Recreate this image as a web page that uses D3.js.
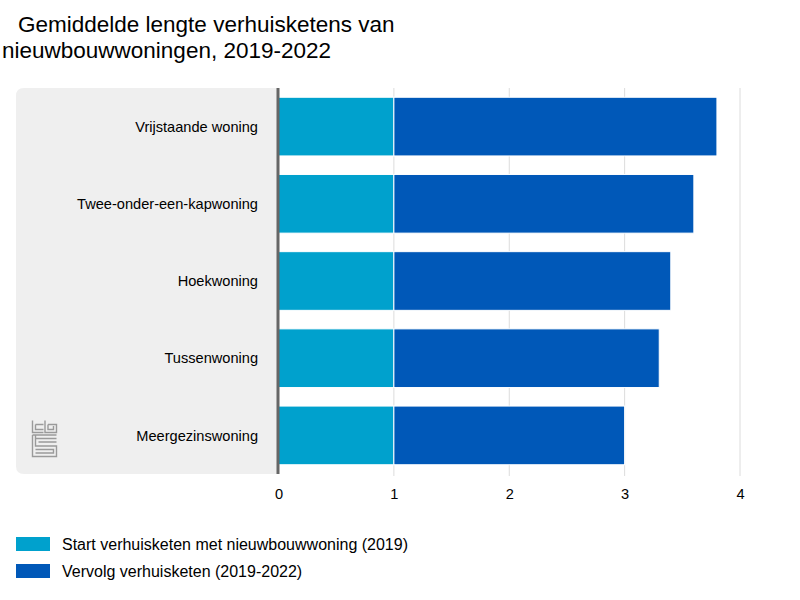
<!DOCTYPE html>
<html><head><meta charset="utf-8">
<script src="https://cdn.jsdelivr.net/npm/d3@7"></script>
<style>body{margin:0;background:#fff;font-family:"Liberation Sans",Arial,sans-serif;}</style>
</head><body><svg id="c" width="800" height="600"></svg>
<script>
const categories = ["Vrijstaande woning","Twee-onder-een-kapwoning","Hoekwoning","Tussenwoning","Meergezinswoning"];
const startValues = [1,1,1,1,1];
const vervolgValues = [2.8,2.6,2.4,2.3,2.0];
const seriesNames = ["Start verhuisketen met nieuwbouwwoning (2019)","Vervolg verhuisketen (2019-2022)"];
const colors = ["#00a1cd","#0058b8"];
const xTicks = [0,1,2,3,4];
const titleLines = ["Gemiddelde lengte verhuisketens van","nieuwbouwwoningen, 2019-2022"];

const svg = d3.select("#c");
const x = d3.scaleLinear().domain([0,4]).range([278.5,740]);
const y = d3.scaleBand().domain(categories).range([88,474]).paddingInner(0.24).paddingOuter(0.12);

// title
svg.append("text").attr("x",18).attr("y",32).attr("font-size",22.5).attr("fill","#000").text(titleLines[0]);
svg.append("text").attr("x",2).attr("y",58).attr("font-size",22.5).attr("fill","#000").text(titleLines[1]);

// gray label panel
svg.append("path")
  .attr("d", (()=>{const l=16,t=88,r=278,b=474,rr=8;return `M${r},${t}H${l+rr}Q${l},${t} ${l},${t+rr}V${b-rr}Q${l},${b} ${l+rr},${b}H${r}Z`;})())
  .attr("fill","#efefef");

// gridlines
svg.append("g").selectAll("line").data(xTicks.slice(1)).join("line")
  .attr("x1",d=>x(d)).attr("x2",d=>x(d)).attr("y1",88).attr("y2",476)
  .attr("stroke","#dcdcdc").attr("stroke-width",1);

// stacked data
const rows = categories.map((c,i)=>({cat:c,start:startValues[i],vervolg:vervolgValues[i]}));
const stack = d3.stack().keys(["start","vervolg"])(rows);
svg.append("g").selectAll("g").data(stack).join("g")
  .attr("fill",(d,i)=>colors[i])
  .selectAll("rect").data(d=>d).join("rect")
  .attr("x",d=>x(d[0])).attr("width",d=>x(d[1])-x(d[0]))
  .attr("y",d=>y(d.data.cat)).attr("height",y.bandwidth())
  .attr("stroke","#fff").attr("stroke-width",1);

// axis baseline
svg.append("line").attr("x1",278).attr("x2",278).attr("y1",88).attr("y2",474)
  .attr("stroke","#666").attr("stroke-width",3);

// category labels
svg.append("g").selectAll("text").data(categories).join("text")
  .attr("x",258).attr("y",d=>y(d)+y.bandwidth()/2).attr("dy","0.35em")
  .attr("text-anchor","end").attr("font-size",14.6).attr("fill","#000").text(d=>d);

// x axis tick labels
const xAxis = d3.axisBottom(x).tickValues(xTicks).tickFormat(d3.format("d")).tickSize(0).tickPadding(0);
const gx = svg.append("g").attr("transform","translate(0,489)").call(xAxis);
gx.select(".domain").remove();
gx.selectAll("text").attr("font-size",14.6).attr("font-family","Liberation Sans, Arial, sans-serif").attr("fill","#000").attr("dy","0.71em");

// legend
const lg = svg.append("g").selectAll("g").data(seriesNames).join("g")
  .attr("transform",(d,i)=>`translate(16,${537+i*27})`);
lg.append("rect").attr("width",34).attr("height",14).attr("fill",(d,i)=>colors[i]);
lg.append("text").attr("x",46).attr("y",7).attr("dy","0.35em").attr("font-size",16).attr("fill","#000").text(d=>d);

// cbs logo (approximation)
const logo = svg.append("g").attr("transform","translate(32,420)").attr("fill","none").attr("stroke","#9a9a9a").attr("stroke-width",1.4);
logo.append("path").attr("d","M0.5,0.5V12.5H11.5 M3.5,4.5H11.5 M3.5,4.5V9.5H11.5");
logo.append("path").attr("d","M13,0.5V12.5H24.5V4.5H16 M16,4.5V9.5H21.5V6");
logo.append("path").attr("d","M0.5,15V36.5H24.5V26H3.5V15 M0.5,15H24.5 M3.5,18.5H24.5 M6.5,22H24.5 M3.5,29.5H21.5V33H3.5");
</script></body></html>
